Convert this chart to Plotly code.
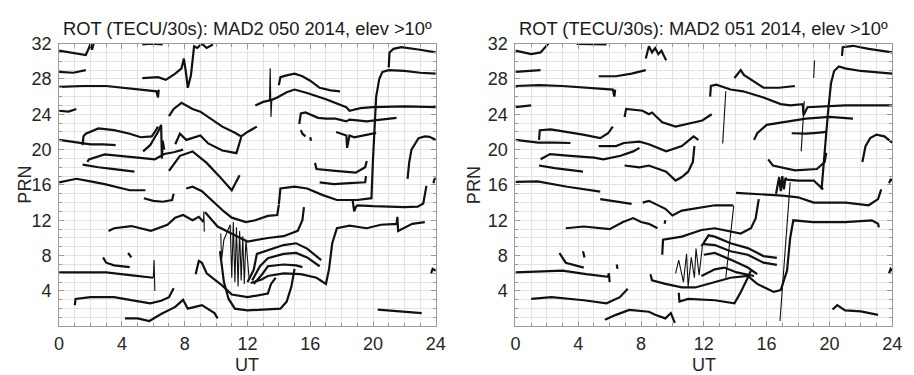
import plotly.graph_objects as go

# ---------------- Day 050 (left panel) : satellite tracks (UT hours, PRN-offset ROT) ----------------
d050_upper = [
    ([0, 1.0, 1.7, 1.9, 2.0, 2.1, 2.2], [31.2, 30.9, 30.7, 31.5, 32.0, 31.3, 32.0]),
    ([0, 0.9, 1.7], [28.8, 28.7, 29.0]),
    ([0, 1.5, 3, 4.5, 6.2, 6.3, 6.35], [27.1, 27.2, 27.2, 26.9, 26.6, 25.9, 26.8]),
    ([0, 0.6, 1.1], [24.4, 24.3, 24.6]),
    ([5.3, 6.3, 6.8, 7.4, 7.8, 7.95, 8.1, 8.2, 8.4, 8.6, 8.8, 9.1, 9.4, 9.8],
     [28.1, 28.2, 27.9, 28.6, 29.2, 30.3, 28.5, 27.0, 28.4, 31.7, 31.5, 32.0, 31.5, 31.9]),
    ([5.3, 5.9, 6.6], [31.9, 32.0, 31.9]),
    ([7.0, 7.3, 7.8, 8.5, 9.0, 10.0, 10.4, 11.2, 11.6, 12.0, 12.6],
     [23.8, 24.6, 25.3, 24.6, 24.3, 23.1, 22.6, 21.9, 21.5, 22.0, 22.6]),
    ([12.5, 13.0, 13.5, 13.9, 14.5, 15.0, 15.8, 17.0, 18.3, 18.5, 19.2, 20.0, 22, 24],
     [25.0, 25.4, 25.6, 25.9, 26.5, 26.8, 26.4, 25.7, 24.8, 24.4, 24.7, 24.8, 24.9, 24.8]),
    ([14.0, 14.1, 14.5, 15.0, 15.5, 16.0, 16.6, 17.3, 17.9],
     [27.3, 28.2, 28.4, 28.6, 28.3, 27.8, 27.0, 26.7, 26.6]),
    ([15.3, 15.4, 15.7, 16.0, 16.5, 17.0, 17.6, 18.3, 18.5, 19.0, 19.6, 20.5, 21.5],
     [22.9, 24.1, 24.2, 24.0, 23.6, 23.5, 23.5, 23.2, 23.4, 23.3, 23.2, 23.4, 23.6]),
    ([15.4, 15.5, 15.7], [22.2, 21.8, 21.5]),
    ([16.0, 16.05], [21.4, 21.0]),
    ([17.65, 18.0, 18.3, 18.35, 18.5, 18.8, 19.3, 19.8, 20.2],
     [22.0, 21.8, 21.6, 20.2, 21.6, 21.4, 21.6, 21.8, 21.9]),
    ([21.0, 21.05, 21.3, 21.8, 23, 24], [29.3, 31.0, 31.4, 31.6, 31.3, 31.0]),
    ([22.2, 22.3, 22.45, 22.7, 22.9, 23.3, 23.6, 24.0], [16.7, 18.5, 20.0, 20.8, 21.3, 21.5, 21.45, 21.1]),
    ([23.85, 23.9, 24], [16.2, 16.6, 16.8]),
]
d050_middle = [
    ([1.5, 1.55, 1.7, 2.5, 3.5, 4.5, 5.2, 5.9, 6.1, 6.3], [20.5, 21.5, 21.8, 22.4, 22.2, 21.8, 21.4, 21.5, 22.0, 22.6]),
    ([0, 0.8, 1.5, 2.0, 2.8, 3.6], [21.1, 20.9, 20.7, 20.6, 20.6, 20.5]),
    ([5.35, 5.8, 6.1, 6.3, 6.5, 6.55, 6.6, 6.7], [19.8, 20.5, 21.4, 22.0, 22.8, 19.0, 21.0, 20.0]),
    ([1.8, 1.9, 2.9, 4.0, 5.0, 6.1, 6.7, 7.3, 7.9], [18.6, 18.9, 19.45, 19.3, 19.1, 18.9, 19.5, 19.7, 20.0]),
    ([7.4, 7.7, 8.1, 8.5, 9.0, 9.5, 10.4, 11.3, 11.6], [20.6, 21.8, 21.1, 21.3, 21.6, 20.7, 19.9, 19.6, 21.4]),
    ([7.0, 7.4, 7.7, 8.5, 9.4, 10.2, 11.0, 11.5], [17.6, 18.6, 19.3, 19.8, 18.5, 17.0, 15.4, 17.1]),
    ([1.5, 2.5, 3.5, 4.8], [18.3, 18.0, 17.8, 17.5]),
    ([0, 1.1, 2.0, 2.9, 4.5, 5.5], [16.3, 16.7, 16.4, 16.1, 15.4, 15.4]),
    ([5.4, 6.0, 6.6, 7.2, 7.3], [14.5, 14.2, 14.1, 14.3, 15.0]),
    ([3.15, 3.5, 4.6, 5.85, 6.9, 7.4, 7.9, 8.5, 8.9, 9.2],
     [10.8, 11.1, 11.35, 10.8, 11.5, 12.3, 12.6, 12.0, 12.4, 11.8]),
    ([8.1, 8.5, 9.1, 9.8, 10.5, 11.0, 11.9, 12.5, 13.3, 13.9, 14.0],
     [15.6, 15.8, 15.3, 14.1, 13.0, 12.3, 11.8, 12.0, 12.5, 12.6, 13.75]),
    ([14.0, 14.1, 15.0, 15.8, 16.8, 17.7, 19.0, 19.5, 19.9, 20.0, 20.1, 20.2, 20.4, 20.6, 21.0, 22, 23, 24],
     [13.8, 15.6, 15.8, 15.6, 14.85, 14.3, 14.3, 14.4, 14.5, 19.0, 23.0, 26.0, 28.0, 28.8, 29.0, 28.9, 28.7, 28.6]),
    ([9.3, 10.1, 11.2, 12.0, 13.3, 14.3, 15.2, 15.5, 15.6], [12.9, 11.3, 10.3, 9.6, 10.0, 10.2, 10.8, 12.0, 13.5]),
    ([16.3, 16.4, 17.6, 18.9, 19.5, 19.6], [18.5, 17.8, 17.6, 17.4, 18.0, 18.7]),
    ([16.6, 17.5, 18.5, 19.5, 19.55], [16.3, 16.1, 16.2, 16.3, 17.0]),
    ([18.7, 18.8, 18.9, 19.0, 20.0, 20.9, 22.0, 22.85, 23.2, 23.4],
     [14.3, 13.0, 13.5, 13.7, 13.6, 13.55, 13.5, 13.55, 13.9, 15.9]),
]
d050_lower = [
    ([0, 1.5, 3.0, 4.5, 6.0], [6.1, 6.1, 6.1, 5.8, 5.5]),
    ([2.8, 3.0, 3.5, 4.0, 4.5], [7.8, 7.2, 6.9, 6.8, 6.7]),
    ([4.4, 4.5, 4.6], [8.3, 8.0, 7.8]),
    ([1.0, 1.05, 2.0, 3.5, 4.5, 5.8, 6.5, 7.0, 7.3], [2.4, 3.1, 3.3, 3.3, 3.0, 2.6, 2.9, 3.3, 4.3]),
    ([4.2, 5.0, 5.75, 6.5, 7.4, 7.9, 8.2, 9.1, 9.9, 10.1], [0.9, 0.9, 0.6, 1.4, 2.2, 3.0, 2.0, 2.4, 1.5, 0.9]),
    ([8.7, 8.9, 9.1, 9.4, 10.4, 11.0, 12.0, 13.3, 13.5, 13.8], [5.9, 7.4, 7.2, 6.0, 4.6, 3.6, 3.3, 3.7, 4.8, 5.5]),
    ([10.25, 10.5, 10.8, 11.2, 12.0, 12.9, 14.1, 14.5, 14.8, 15.0], [8.5, 5.0, 3.1, 2.0, 1.8, 1.85, 2.0, 2.8, 4.5, 6.5]),
    ([12.0, 12.4, 12.6, 13.3, 14.3, 15.1, 15.8, 16.7], [5.0, 6.4, 8.2, 8.6, 9.2, 9.4, 8.8, 7.5]),
    ([12.3, 12.8, 13.3, 14.3, 15.1, 15.8, 16.6], [5.2, 6.8, 7.7, 8.2, 8.3, 7.8, 6.8]),
    ([12.4, 12.9, 13.3, 14.3, 15.1, 15.5], [4.8, 5.8, 6.8, 7.0, 6.9, 6.7]),
    ([12.2, 12.9, 13.3, 14.3, 15.4, 16.4, 17.0, 17.2, 17.4, 17.7, 18.5, 19.6, 20.5, 21.5, 21.55, 21.6, 22.5, 23.3],
     [4.9, 5.3, 5.7, 6.0, 5.9, 5.5, 4.8, 6.5, 9.4, 11.1, 11.4, 11.1, 11.5, 11.6, 12.4, 10.8, 11.6, 11.8]),
    ([20.3, 21.0, 22.0, 23.1], [1.9, 1.8, 1.7, 1.5]),
    ([23.7, 23.8, 24], [6.0, 6.5, 6.3]),
]
# thin excursions (scintillation spikes and cycle-slip jumps)
d050_thin = [
    ([13.4, 13.45, 13.5, 13.55], [25.5, 29.2, 23.7, 25.6]),
    ([6.0, 6.05, 6.1], [5.5, 7.5, 4.0]),
    ([9.2, 9.22, 9.25], [11.8, 13.0, 10.7]),
    ([10.3, 10.35, 10.5, 10.9, 11.0, 11.1, 11.2, 11.3, 11.4, 11.5, 11.6, 11.7, 11.8, 11.9, 12.1],
     [10.5, 7.5, 9.8, 11.5, 5.5, 11.8, 5.0, 11.2, 4.5, 10.8, 5.2, 10.2, 4.8, 9.8, 5.5]),
]

# ---------------- Day 051 (right panel) ----------------
d051_upper = [
    ([0, 1.0, 1.6, 1.95, 2.1], [31.2, 30.8, 31.0, 31.7, 32.0]),
    ([3.9, 5.8], [31.95, 31.9]),
    ([8.3, 8.5, 8.7, 8.9, 9.1, 9.3, 9.6], [30.3, 31.7, 31.0, 31.5, 30.8, 31.2, 30.1]),
    ([0, 0.8, 1.6], [28.8, 28.9, 29.0]),
    ([0, 1.5, 3.0, 4.5, 6.2, 6.3, 6.35], [27.2, 27.3, 27.2, 27.0, 26.8, 26.0, 26.8]),
    ([5.3, 6.4, 7.4, 8.3], [28.3, 28.3, 28.6, 29.0]),
    ([0, 1.0], [24.8, 25.0]),
    ([6.95, 7.05, 8.1, 8.5, 8.7, 9.35, 10.2, 11.0, 11.9, 12.5], [23.7, 24.6, 24.4, 24.0, 24.2, 23.1, 22.6, 22.95, 23.3, 24.0]),
    ([12.4, 12.45, 12.8, 13.7, 14.5, 15.8, 16.9, 17.5, 18.3, 18.35, 18.6, 19.5, 21, 22.5, 24],
     [26.0, 27.2, 27.35, 26.8, 26.6, 25.9, 25.15, 25.0, 25.15, 23.9, 24.8, 24.9, 25.0, 25.0, 25.0]),
    ([13.95, 14.35, 14.55, 15.2, 15.8, 16.8, 17.8], [28.1, 29.0, 28.45, 27.7, 27.0, 27.0, 27.2]),
    ([15.2, 15.4, 16.0, 17.0, 18.5, 20.0, 21.5], [21.1, 21.85, 22.8, 23.1, 23.5, 23.7, 23.5]),
    ([17.6, 18.5, 19.2, 19.8], [21.85, 21.8, 21.9, 22.0]),
    ([19.5, 19.7, 19.9, 20.1, 20.3, 20.6, 21.0, 22, 24], [15.5, 20.0, 24.0, 27.5, 28.9, 29.4, 29.2, 28.9, 28.6]),
    ([20.8, 20.85, 21.5, 22.5, 24], [30.6, 31.6, 31.75, 31.4, 31.0]),
    ([22.1, 22.3, 22.6, 23.0, 23.5, 23.75, 24], [18.6, 20.4, 21.3, 21.7, 21.5, 21.1, 20.8]),
]
d051_middle = [
    ([1.5, 1.55, 2.25, 3.3, 4.3, 5.4, 5.9, 6.2], [21.1, 22.2, 22.3, 22.0, 21.7, 21.3, 21.85, 22.6]),
    ([0, 1.45, 2.5, 3.5], [21.1, 20.8, 20.8, 20.75]),
    ([5.3, 6.4, 6.9, 7.9, 8.5, 9.6, 10.6, 11.35, 11.65], [20.4, 20.4, 20.75, 20.9, 20.6, 19.8, 20.4, 21.5, 21.1]),
    ([1.6, 2.2, 3.5, 5.0, 5.6, 6.7, 7.5, 7.9], [18.9, 19.5, 19.3, 19.1, 18.9, 19.3, 19.8, 20.2]),
    ([1.5, 2.5, 4.3], [18.2, 17.9, 17.5]),
    ([6.95, 7.9, 8.5, 9.6, 10.2, 10.6, 11.0, 11.3, 11.4], [18.2, 18.0, 18.2, 17.5, 16.5, 16.9, 17.5, 18.6, 20.4]),
    ([0, 1.4, 3.3, 5.4], [16.35, 16.4, 15.8, 15.25]),
    ([5.4, 6.4, 7.4], [14.4, 14.1, 13.85]),
    ([8.1, 8.5, 9.55, 10.0, 10.6, 11.85, 12.7, 13.85], [14.0, 14.2, 13.3, 12.55, 13.1, 13.5, 13.7, 13.7]),
    ([14.05, 15.0, 16.0, 17.0, 18.0, 18.75, 19.0, 21.05, 21.8, 22.5, 23.1, 23.3],
     [15.1, 15.0, 14.95, 14.8, 14.6, 14.2, 14.0, 14.0, 13.85, 13.7, 14.4, 15.5]),
    ([16.1, 16.4, 17.8, 19.2, 19.7, 19.8], [18.9, 18.2, 17.65, 17.8, 18.6, 19.65]),
    ([16.6, 16.8, 16.9, 17.0, 17.1, 17.2, 17.3, 18.0, 19.0, 19.6], [15.0, 16.9, 15.3, 17.0, 15.5, 16.8, 16.6, 16.5, 16.5, 15.5]),
    ([23.8, 23.9, 24], [16.2, 16.6, 16.5]),
]
d051_lower = [
    ([3.2, 4.35, 6.0, 6.85, 7.5, 8.0, 8.5, 9.05], [11.1, 11.3, 11.0, 11.8, 12.25, 11.8, 11.6, 11.1]),
    ([9.5, 9.55], [11.6, 12.0]),
    ([9.35, 9.4, 10.6, 11.85, 12.7, 13.7, 14.35, 15.0, 15.3, 15.5], [8.1, 9.8, 10.15, 10.9, 11.1, 10.7, 10.5, 11.1, 12.2, 14.4]),
    ([0, 3.0, 4.5, 5.9, 5.95, 6.0], [6.1, 6.3, 5.9, 5.6, 6.0, 5.0]),
    ([2.8, 3.2, 4.35], [8.3, 7.2, 6.65]),
    ([4.3, 4.4], [8.5, 7.8]),
    ([6.45, 6.5], [7.0, 6.5]),
    ([1.0, 2.3, 4.35, 5.8, 6.65, 7.15], [3.1, 3.3, 2.95, 2.6, 3.3, 4.25]),
    ([5.7, 6.4, 7.25, 8.5, 8.9, 9.55, 9.9, 10.15], [0.75, 1.3, 1.85, 1.65, 1.3, 0.9, 1.5, 0.4]),
    ([8.6, 8.7, 9.55, 10.6, 11.45, 12.7, 13.7, 14.8, 15.4, 16.45, 16.9, 17.3, 17.5, 17.7, 18.95, 21, 22.7, 23.1, 23.15],
     [5.9, 5.2, 4.8, 4.4, 4.4, 5.0, 5.5, 5.7, 4.8, 3.9, 4.1, 6.3, 10.0, 12.0, 11.8, 11.8, 12.0, 11.6, 11.2]),
    ([10.4, 10.45, 11.0, 12.7, 13.95, 14.3, 14.8, 15.0], [3.8, 2.8, 3.1, 2.95, 2.6, 3.7, 5.5, 6.3]),
    ([11.85, 12.3, 12.7, 13.7, 14.8, 15.8, 16.65], [9.05, 10.3, 10.15, 9.4, 8.85, 7.95, 7.75]),
    ([12.0, 12.7, 13.7, 14.8, 15.8, 16.65], [9.3, 9.2, 8.5, 8.1, 7.2, 6.95]),
    ([12.0, 12.7, 13.7, 14.8, 15.4], [8.1, 8.3, 7.55, 6.65, 5.9]),
    ([11.85, 12.7, 13.3, 14.1, 15.2], [5.7, 6.45, 6.65, 6.1, 5.7]),
    ([20.2, 20.5, 21.0, 22.0, 23.1], [1.9, 2.4, 1.8, 1.7, 1.3]),
    ([23.8, 23.9, 24], [6.0, 6.5, 6.3]),
]
d051_thin = [
    ([13.4, 13.2], [26.6, 20.7]),
    ([19.0, 19.05], [28.1, 30.1]),
    ([18.4, 18.2], [25.5, 19.8]),
    ([13.85, 13.9, 13.5, 13.4], [13.7, 13.55, 7.15, 5.5]),
    ([16.85, 17.35, 17.5], [0.6, 12.6, 16.3]),
    ([10.2, 10.4, 10.7, 10.9, 11.0, 11.2, 11.4, 11.5, 11.7, 11.9], [6.0, 7.5, 5.0, 8.2, 4.5, 7.8, 5.5, 8.8, 5.8, 9.0]),
]

x_ticks = [0, 4, 8, 12, 16, 20, 24]
y_ticks = [4, 8, 12, 16, 20, 24, 28, 32]
titles = ["ROT (TECU/30s): MAD2 050 2014, elev >10º", "ROT (TECU/30s): MAD2 051 2014, elev >10º"]

FONT = "Liberation Sans, Arial, sans-serif"
fig = go.Figure()


def add_group(groups, xa, ya, width):
    for segs in groups:
        xs, ys = [], []
        for sx, sy in segs:
            xs += list(sx) + [None]
            ys += list(sy) + [None]
        fig.add_trace(go.Scatter(x=xs, y=ys, mode="lines", xaxis=xa, yaxis=ya,
                                 line=dict(color="#111111", width=width), connectgaps=False,
                                 showlegend=False, hoverinfo="skip"))


add_group([d050_upper, d050_middle, d050_lower], "x", "y", 2.2)
add_group([d050_thin], "x", "y", 1.1)
add_group([d051_upper, d051_middle, d051_lower], "x2", "y2", 2.2)
add_group([d051_thin], "x2", "y2", 1.1)

W, H = 914, 375
ydom = [1 - 325 / H, 1 - 34.5 / H]
doms = [[55 / W, 438 / W], [519 / W, 902 / W]]
prn_offset = [35, 42]

axis_common = dict(showline=True, linecolor="#9a9a9a", linewidth=1, mirror="allticks",
                   ticks="inside", ticklen=5, tickcolor="#9a9a9a",
                   showgrid=True, gridcolor="#e3e3e3", gridwidth=1, zeroline=False,
                   tickfont=dict(family=FONT, size=18, color="#262626"),
                   minor=dict(ticks="inside", ticklen=3, tickcolor="#9a9a9a", dtick=1,
                              showgrid=True, gridcolor="#e3e3e3", gridwidth=1))

layout = dict(width=W, height=H, margin=dict(l=0, r=0, t=0, b=0),
              paper_bgcolor="white", plot_bgcolor="white", showlegend=False)
for i, (xa, ya) in enumerate([("xaxis", "yaxis"), ("xaxis2", "yaxis2")]):
    xanchor = "y" if i == 0 else "y2"
    yanchor = "x" if i == 0 else "x2"
    layout[xa] = dict(axis_common, domain=doms[i], range=[0, 24], tickvals=x_ticks,
                      anchor=xanchor, ticklabelstandoff=1)
    layout[ya] = dict(axis_common, domain=ydom, range=[0, 32], tickvals=y_ticks,
                      anchor=yanchor, ticklabelstandoff=3)
fig.update_layout(**layout)

ann = []
for i in range(2):
    cx = (doms[i][0] + doms[i][1]) / 2
    ann.append(dict(text=titles[i], x=cx, y=1 - 19 / H, xref="paper", yref="paper",
                    showarrow=False, font=dict(family=FONT, size=18.3, color="#1a1a1a"),
                    xanchor="center", yanchor="middle"))
    ann.append(dict(text="UT", x=cx, y=1 - 365 / H, xref="paper", yref="paper",
                    showarrow=False, font=dict(family=FONT, size=18, color="#262626"),
                    xanchor="center", yanchor="middle"))
    ann.append(dict(text="PRN", x=(doms[i][0] * W - prn_offset[i]) / W, y=(ydom[0] + ydom[1]) / 2,
                    xref="paper", yref="paper", textangle=-90,
                    showarrow=False, font=dict(family=FONT, size=18, color="#262626"),
                    xanchor="center", yanchor="middle"))
fig.update_layout(annotations=ann)

fig.write_html("out.html")
